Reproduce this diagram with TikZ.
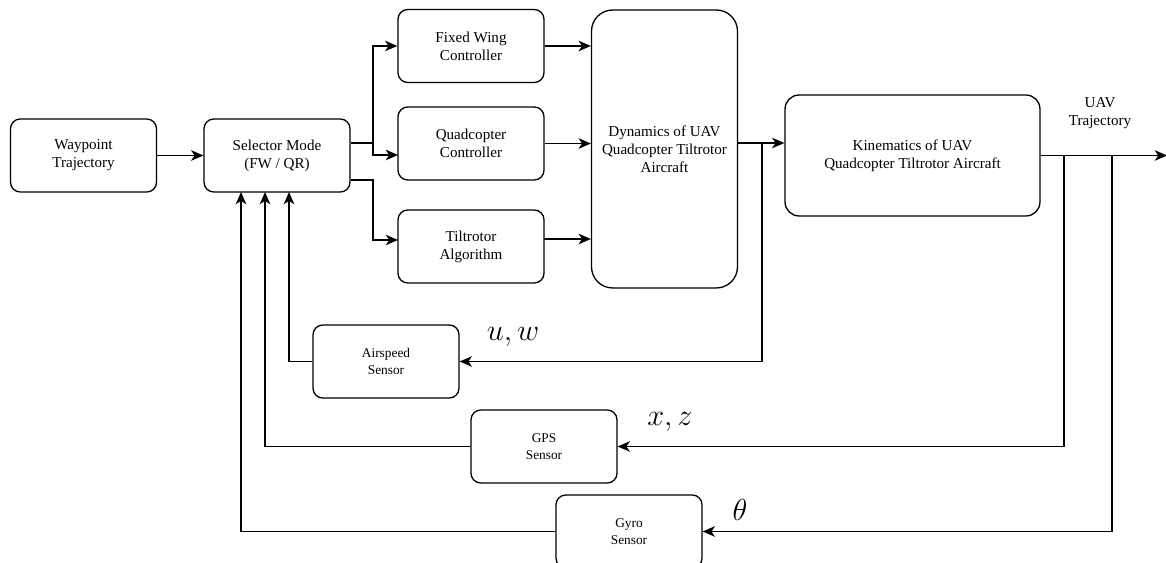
\documentclass[tikz,border=0pt]{standalone}
\usepackage{fontspec}
\setmainfont{Liberation Serif}
\usetikzlibrary{arrows.meta,calc}
\newcommand\mainsz{\fontsize{8.6}{10.2}\selectfont}
\newcommand\sensz{\fontsize{7.6}{9.5}\selectfont}
\tikzset{
  blk/.style={draw, line width=0.75pt, rounded corners=5.5pt, align=center, inner sep=1pt,
              minimum width=2.92cm, minimum height=1.46cm, font=\mainsz},
  sens/.style={blk, font=\sensz},
  arr/.style={line width=0.75pt, -{Stealth[length=7pt,width=6pt,inset=2pt]}},
  lbl/.style={inner sep=0pt, font=\fontsize{16}{18}\selectfont}
}
\begin{document}
\begin{tikzpicture}[x=0.02cm,y=-0.02cm]
\path[use as bounding box, clip] (0,0) rectangle (1166,563);
% blocks
\node[blk] (wp) at (83.5,155.5) {Waypoint\\Trajectory};
\node[blk] (sel) at (277,155.5) {Selector Mode\\(FW / QR)};
\node[blk] (fw) at (471,46) {Fixed Wing\\Controller};
\node[blk] (quad) at (471,143.5) {Quadcopter\\Controller};
\node[blk] (tr) at (471,246.5) {Tiltrotor\\Algorithm};
\node[blk, rounded corners=12pt, minimum height=5.56cm] (dyn) at (664.5,149) {Dynamics of UAV\\Quadcopter Tiltrotor\\Aircraft};
\node[blk, rounded corners=8pt, minimum width=5.1cm, minimum height=2.42cm] (kin) at (912.5,155.5) {Kinematics of UAV\\Quadcopter Tiltrotor Aircraft};
\node[sens] (as) at (386,361.5) {Airspeed\\Sensor};
\node[sens] (gps) at (544,446.5) {GPS\\Sensor};
\node[sens] (gyro) at (629,531.5) {Gyro\\Sensor};
\node[inner sep=0pt, align=center, font=\mainsz] (traj) at (1100,113) {UAV\\Trajectory};
% coordinates
\coordinate (j1) at (373,143);
\coordinate (j2) at (373,180);
\coordinate (qin) at (398,155);
\coordinate (tin) at (398,240);
\coordinate (tout) at (544,239);
\coordinate (dout) at (737,143);
\coordinate (b1) at (762,143);
\coordinate (kend) at (1167,155.5);
\coordinate (b2) at (1064,155.5);
\coordinate (b3) at (1112,155.5);
\coordinate (s1) at (289,192);
\coordinate (s2) at (265,192);
\coordinate (s3) at (241,192);
% connectors
\draw[arr] (wp.east) -- (sel.west);
\draw[arr] (sel.east |- j1) -- (j1) |- (fw.west);
\draw[arr] (j1) |- (qin);
\draw[arr] (sel.east |- j2) -- (j2) |- (tin);
\draw[arr] (fw.east) -- (fw.east -| dyn.west);
\draw[arr] (quad.east) -- (quad.east -| dyn.west);
\draw[arr] (tout) -- (tout -| dyn.west);
\draw[arr] (dout) -- (dout -| kin.west);
\draw[arr] (b1) |- (as.east);
\draw[arr] (as.west) -| (s1);
\draw[arr] (kin.east) -- (kend);
\draw[arr] (b2) |- (gps.east);
\draw[arr] (gps.west) -| (s2);
\draw[arr] (b3) |- (gyro.east);
\draw[arr] (gyro.west) -| (s3);
% labels
\node[lbl] (luw) at (513,337) {$u,w$};
\node[lbl] (lxz) at (670,422) {$x,z$};
\node[lbl] (lth) at (740,510) {$\theta$};
\end{tikzpicture}
\end{document}
